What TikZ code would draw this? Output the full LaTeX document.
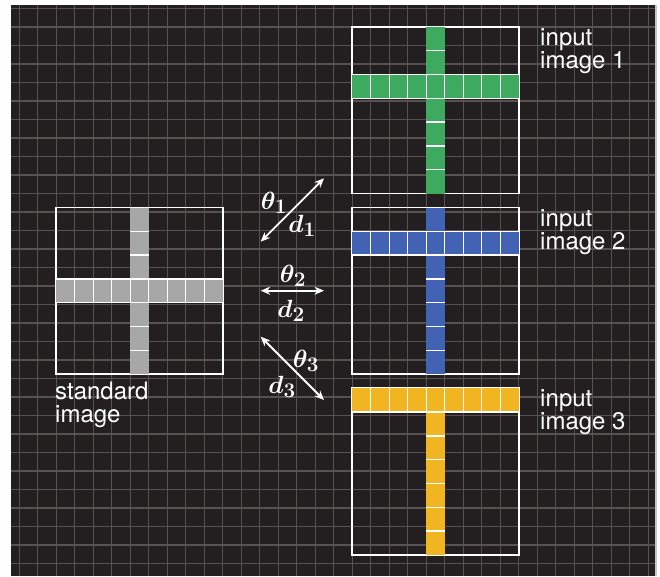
\documentclass[tikz,border=0pt]{standalone}
\usepackage{fontspec}
\setmainfont{TeX Gyre Heros}
\usepackage{amsmath}
\usetikzlibrary{arrows.meta}

\definecolor{panelbg}{HTML}{231F20}
\definecolor{gridgrey}{HTML}{57524F}
\definecolor{crossgreen}{HTML}{3DAA5F}
\definecolor{crossblue}{HTML}{4262B4}
\definecolor{crossyellow}{HTML}{F0B521}
\definecolor{crossgrey}{HTML}{A7A7A7}

% one 9x7 image with a cross: #1 left, #2 top, #3 colour, #4 row of the bar
\newcommand{\crossimage}[4]{%
  \draw[imgframe] (#1,#2) rectangle ++(166.5,166.5);
  \fill[#3] (#1,{#2+#4*23.786}) rectangle ++(166.5,23.786);
  \fill[#3] ({#1+74},#2) rectangle ++(18.5,166.5);
  \foreach \c in {1,...,8}
    \draw[cellsep] ({#1+\c*18.5},{#2+#4*23.786}) -- ++(0,23.786);
  \foreach \r in {1,...,6}
    \draw[cellsep] ({#1+74},{#2+\r*23.786}) -- ++(18.5,0);
  \ifnum#4>0 \draw[cellsep] (#1,{#2+#4*23.786}) -- ++(166.5,0);\fi
  \draw[cellsep] (#1,{#2+(#4+1)*23.786}) -- ++(166.5,0);
}

\begin{document}
\begin{tikzpicture}[x=1pt,y=-1pt,
    gridline/.style={draw=gridgrey,line width=1.2pt},
    imgframe/.style={draw=white,line width=1.8pt},
    cellsep/.style={draw=white,line width=1.3pt},
    caption/.style={text=white,font=\fontsize{24}{23}\selectfont,align=left,inner sep=0pt,anchor=base west},
    mathlabel/.style={text=white,font=\fontsize{28}{28}\selectfont\boldmath,inner sep=0pt},
    shiftarrow/.style={white,line width=1.8pt,{Stealth[length=9.5pt,width=8pt]}-{Stealth[length=9.5pt,width=8pt]}}]
    \useasboundingbox (0,0) rectangle (660,576);
    \fill[white] (0,0) rectangle (660,576);

    % fondo con rejilla
    \fill[panelbg] (11,5) rectangle (655,576);
    \foreach \k in {0,...,34}
        \draw[gridline] ({19.3+\k*18.5},5) -- ({19.3+\k*18.5},576);
    \foreach \k in {0,...,30}
        \draw[gridline] (11,{8.5+\k*18.5}) -- (655,{8.5+\k*18.5});
    \draw[gray!45,line width=2pt] (655.5,5) -- (655.5,576);

    % imagenes
    \crossimage{56.3}{207.5}{crossgrey}{3}
    \crossimage{352.3}{27}{crossgreen}{2}
    \crossimage{352.3}{207.5}{crossblue}{1}
    \crossimage{352.3}{388.3}{crossyellow}{0}

    % rotulos (ancla en la linea de base inferior)
    \node[caption] (std) at (55,422) {standard\\image};
    \node[caption] (in1) at (540,68.5) {input\\image 1};
    \node[caption] (in2) at (540,249.5) {input\\image 2};
    \node[caption] (in3) at (540,429) {input\\image 3};

    % flechas
    \coordinate (a1s) at (260.7,241.7);
    \coordinate (a1e) at (324,178.3);
    \coordinate (a2s) at (260.7,290.7);
    \coordinate (a2e) at (324,290.7);
    \coordinate (a3s) at (260.7,336.7);
    \coordinate (a3e) at (324,400);
    \draw[shiftarrow] (a1s) -- (a1e);
    \draw[shiftarrow] (a2s) -- (a2e);
    \draw[shiftarrow] (a3s) -- (a3e);

    \node[mathlabel] (t1) at (274,203) {$\theta_1$};
    \node[mathlabel] (d1) at (302,226) {$d_1$};
    \node[mathlabel] (t2) at (293,276) {$\theta_2$};
    \node[mathlabel] (d2) at (291,311) {$d_2$};
    \node[mathlabel] (t3) at (306,361) {$\theta_3$};
    \node[mathlabel] (d3) at (282,387) {$d_3$};
\end{tikzpicture}
\end{document}
